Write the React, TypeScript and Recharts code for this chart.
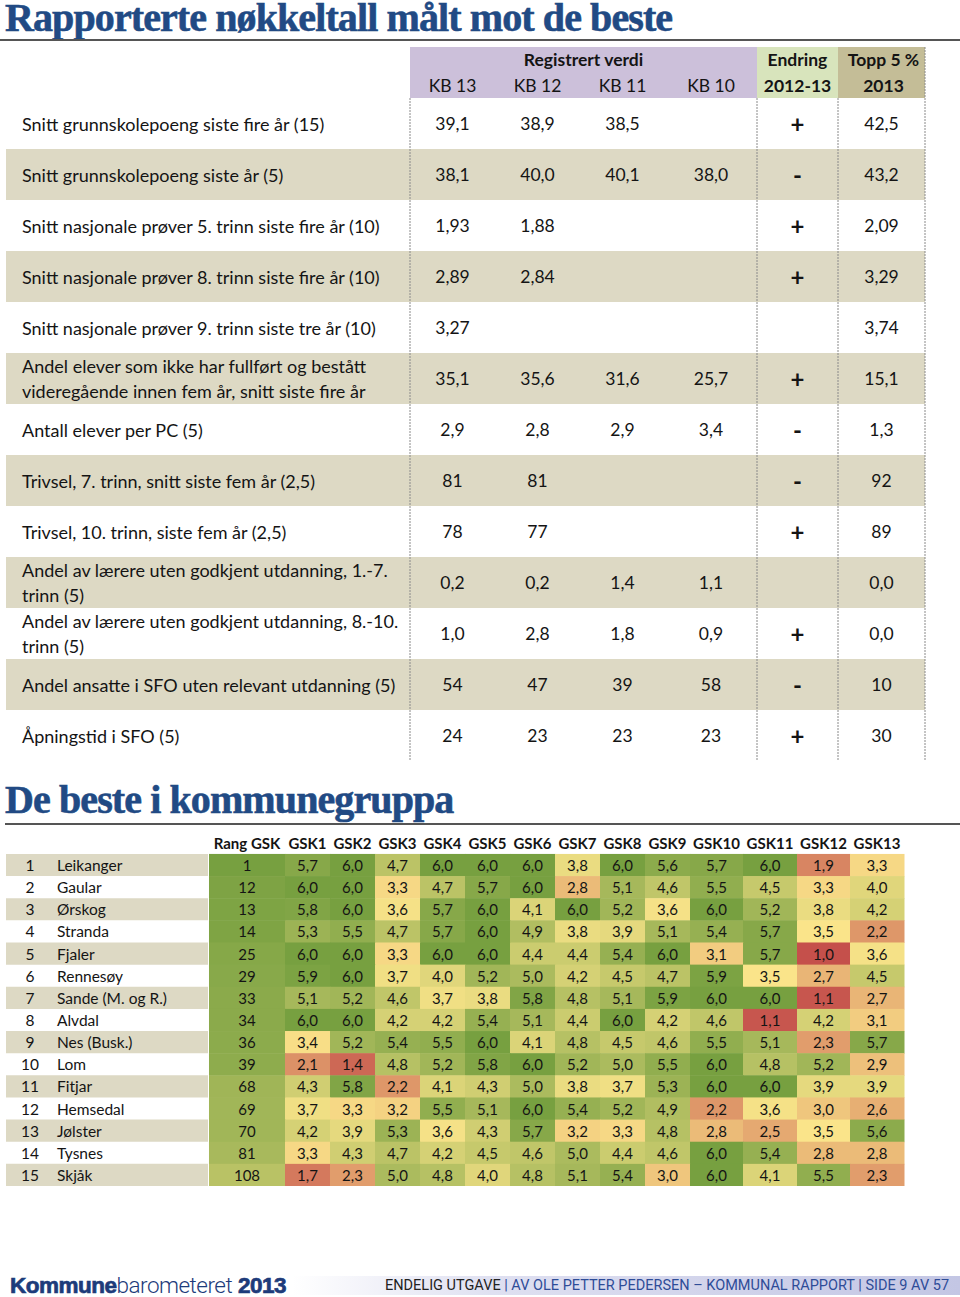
import React from "react";
import { ScatterChart, Scatter, XAxis, YAxis, ReferenceArea, ReferenceLine } from "recharts";

// ---------- top table: "Rapporterte nøkkeltall målt mot de beste"
const rowLabels = [
  "Snitt grunnskolepoeng siste fire år (15)",
  "Snitt grunnskolepoeng siste år (5)",
  "Snitt nasjonale prøver 5. trinn siste fire år (10)",
  "Snitt nasjonale prøver 8. trinn siste fire år (10)",
  "Snitt nasjonale prøver 9. trinn siste tre år (10)",
  "Andel elever som ikke har fullført og bestått\nvideregående innen fem år, snitt siste fire år",
  "Antall elever per PC (5)",
  "Trivsel, 7. trinn, snitt siste fem år (2,5)",
  "Trivsel, 10. trinn, siste fem år (2,5)",
  "Andel av lærere uten godkjent utdanning, 1.-7.\ntrinn (5)",
  "Andel av lærere uten godkjent utdanning, 8.-10.\ntrinn (5)",
  "Andel ansatte i SFO uten relevant utdanning (5)",
  "Åpningstid i SFO (5)",
];
const kbYears = ["KB 13", "KB 12", "KB 11", "KB 10"];
const kb13 = ["39,1", "38,1", "1,93", "2,89", "3,27", "35,1", "2,9", "81", "78", "0,2", "1,0", "54", "24"];
const kb12 = ["38,9", "40,0", "1,88", "2,84", "", "35,6", "2,8", "81", "77", "0,2", "2,8", "47", "23"];
const kb11 = ["38,5", "40,1", "", "", "", "31,6", "2,9", "", "", "1,4", "1,8", "39", "23"];
const kb10 = ["", "38,0", "", "", "", "25,7", "3,4", "", "", "1,1", "0,9", "58", "23"];
const endring = ["+", "-", "+", "+", "", "+", "-", "-", "+", "", "+", "-", "+"];
const topp5 = ["42,5", "43,2", "2,09", "3,29", "3,74", "15,1", "1,3", "92", "89", "0,0", "0,0", "10", "30"];

// ---------- bottom table: "De beste i kommunegruppa"
const gskHeaders = ["Rang GSK", "GSK1", "GSK2", "GSK3", "GSK4", "GSK5", "GSK6", "GSK7", "GSK8", "GSK9", "GSK10", "GSK11", "GSK12", "GSK13"];
const kommuner = ["Leikanger", "Gaular", "Ørskog", "Stranda", "Fjaler", "Rennesøy", "Sande (M. og R.)", "Alvdal", "Nes (Busk.)", "Lom", "Fitjar", "Hemsedal", "Jølster", "Tysnes", "Skjåk"];
const rangGsk = [1, 12, 13, 14, 25, 29, 33, 34, 36, 39, 68, 69, 70, 81, 108];
const gsk1 = [5.7, 6.0, 5.8, 5.3, 6.0, 5.9, 5.1, 6.0, 3.4, 2.1, 4.3, 3.7, 4.2, 3.3, 1.7];
const gsk2 = [6.0, 6.0, 6.0, 5.5, 6.0, 6.0, 5.2, 6.0, 5.2, 1.4, 5.8, 3.3, 3.9, 4.3, 2.3];
const gsk3 = [4.7, 3.3, 3.6, 4.7, 3.3, 3.7, 4.6, 4.2, 5.4, 4.8, 2.2, 3.2, 5.3, 4.7, 5.0];
const gsk4 = [6.0, 4.7, 5.7, 5.7, 6.0, 4.0, 3.7, 4.2, 5.5, 5.2, 4.1, 5.5, 3.6, 4.2, 4.8];
const gsk5 = [6.0, 5.7, 6.0, 6.0, 6.0, 5.2, 3.8, 5.4, 6.0, 5.8, 4.3, 5.1, 4.3, 4.5, 4.0];
const gsk6 = [6.0, 6.0, 4.1, 4.9, 4.4, 5.0, 5.8, 5.1, 4.1, 6.0, 5.0, 6.0, 5.7, 4.6, 4.8];
const gsk7 = [3.8, 2.8, 6.0, 3.8, 4.4, 4.2, 4.8, 4.4, 4.8, 5.2, 3.8, 5.4, 3.2, 5.0, 5.1];
const gsk8 = [6.0, 5.1, 5.2, 3.9, 5.4, 4.5, 5.1, 6.0, 4.5, 5.0, 3.7, 5.2, 3.3, 4.4, 5.4];
const gsk9 = [5.6, 4.6, 3.6, 5.1, 6.0, 4.7, 5.9, 4.2, 4.6, 5.5, 5.3, 4.9, 4.8, 4.6, 3.0];
const gsk10 = [5.7, 5.5, 6.0, 5.4, 3.1, 5.9, 6.0, 4.6, 5.5, 6.0, 6.0, 2.2, 2.8, 6.0, 6.0];
const gsk11 = [6.0, 4.5, 5.2, 5.7, 5.7, 3.5, 6.0, 1.1, 5.1, 4.8, 6.0, 3.6, 2.5, 5.4, 4.1];
const gsk12 = [1.9, 3.3, 3.8, 3.5, 1.0, 2.7, 1.1, 4.2, 2.3, 5.2, 3.9, 3.0, 3.5, 2.8, 5.5];
const gsk13 = [3.3, 4.0, 4.2, 2.2, 3.6, 4.5, 2.7, 3.1, 5.7, 2.9, 3.9, 2.6, 5.6, 2.8, 2.3];

// ---------- layout / style
const FONT = "Lato, 'Open Sans', sans-serif";
const INK = "#141414";
const BLUE = "#214a84";
const TAN = "#ddd9c4";

const TOP_EDGES = [410, 495, 580, 665, 757, 838, 925];
const TOP_LABEL_X = 22;
const HEAT_EDGES = [209, 285, 330, 375, 420, 465, 510, 555, 600, 645, 690, 743, 797, 850, 904];
const HEAT_TOP = 820;
const HEAT_H = 380;
const HEAT_MT = 11.8;
const HEAT_MB = 14;
const HEAT_ROW = (HEAT_H - HEAT_MT - HEAT_MB) / (kommuner.length + 1);

const mid = (a: number, b: number) => (a + b) / 2;
const fmt = (v: number) => v.toFixed(1).replace(".", ",");

// colour scales (red - yellow - green like the Excel 3-colour scale)
const RED = [197, 80, 75];
const YEL = [250, 228, 138];
const GRN = [119, 160, 64];
const mix = (a: number[], b: number[], t: number) =>
  `rgb(${a.map((v, i) => Math.round(v + (b[i] - v) * t)).join(",")})`;
const scoreColor = (v: number) => {
  if (v <= 3.5) return mix(RED, YEL, Math.max(0, (v - 1) / 2.5));
  return mix(YEL, GRN, Math.min(1, (v - 3.5) / 2.5));
};
const rankColor = (r: number) => mix(GRN, YEL, Math.min(1, (r - 1) / 214));

// ---------- build top table cells
type TopCell = { x: number; y: number; text: string; kind: "label" | "value" | "sign" | "head" | "headBold" };
const topCols = [kb13, kb12, kb11, kb10, endring, topp5];
const topCells: TopCell[] = [];
rowLabels.forEach((label, r) => {
  topCells.push({ x: TOP_LABEL_X, y: r + 0.5, text: label, kind: "label" });
  topCols.forEach((col, c) => {
    if (col[r]) topCells.push({ x: mid(TOP_EDGES[c], TOP_EDGES[c + 1]), y: r + 0.5, text: col[r], kind: c === 4 ? "sign" : "value" });
  });
});
topCells.push({ x: mid(TOP_EDGES[0], TOP_EDGES[4]), y: -0.75, text: "Registrert verdi", kind: "headBold" });
kbYears.forEach((k, c) => topCells.push({ x: mid(TOP_EDGES[c], TOP_EDGES[c + 1]), y: -0.25, text: k, kind: "head" }));
topCells.push({ x: mid(TOP_EDGES[4], TOP_EDGES[5]), y: -0.75, text: "Endring", kind: "headBold" });
topCells.push({ x: mid(TOP_EDGES[4], TOP_EDGES[5]), y: -0.25, text: "2012-13", kind: "headBold" });
topCells.push({ x: mid(TOP_EDGES[5], TOP_EDGES[6]) + 2, y: -0.75, text: "Topp 5 %", kind: "headBold" });
topCells.push({ x: mid(TOP_EDGES[5], TOP_EDGES[6]) + 2, y: -0.25, text: "2013", kind: "headBold" });

const renderTopCell = (p: any) => {
  const d: TopCell = p.payload;
  const lines = d.text.split("\n");
  const bold = d.kind === "sign" || d.kind === "headBold";
  const size = d.kind === "sign" ? 24 : d.kind === "label" ? 18 : 17.5;
  return (
    <text
      x={p.cx}
      y={p.cy}
      textAnchor={d.kind === "label" ? "start" : "middle"}
      dominantBaseline="central"
      fontFamily={FONT}
      fontSize={size}
      fontWeight={bold ? 700 : 400}
      fill={INK}
    >
      {lines.length === 1
        ? d.text
        : lines.map((l, i) => (
            <tspan key={i} x={p.cx} y={p.cy + (i - (lines.length - 1) / 2) * 25} dominantBaseline="central">
              {l}
            </tspan>
          ))}
    </text>
  );
};

// ---------- build heatmap cells
type HeatCell = { x: number; y: number; col: number; text: string; fill: string; kind: "cell" | "head" | "num" | "name" };
const gskCols = [gsk1, gsk2, gsk3, gsk4, gsk5, gsk6, gsk7, gsk8, gsk9, gsk10, gsk11, gsk12, gsk13];
const heatCells: HeatCell[] = [];
gskHeaders.forEach((h, c) =>
  heatCells.push({ x: mid(HEAT_EDGES[c], HEAT_EDGES[c + 1]), y: -0.5, col: c, text: h, fill: "none", kind: "head" })
);
kommuner.forEach((name, r) => {
  heatCells.push({ x: 30, y: r + 0.5, col: -1, text: String(r + 1), fill: "none", kind: "num" });
  heatCells.push({ x: 57, y: r + 0.5, col: -1, text: name, fill: "none", kind: "name" });
  heatCells.push({ x: mid(HEAT_EDGES[0], HEAT_EDGES[1]), y: r + 0.5, col: 0, text: String(rangGsk[r]), fill: rankColor(rangGsk[r]), kind: "cell" });
  gskCols.forEach((col, c) =>
    heatCells.push({ x: mid(HEAT_EDGES[c + 1], HEAT_EDGES[c + 2]), y: r + 0.5, col: c + 1, text: fmt(col[r]), fill: scoreColor(col[r]), kind: "cell" })
  );
});

const renderHeatCell = (p: any) => {
  const d: HeatCell = p.payload;
  if (d.kind === "cell") {
    const w = HEAT_EDGES[d.col + 1] - HEAT_EDGES[d.col];
    return (
      <g>
        <rect x={p.cx - w / 2} y={p.cy - HEAT_ROW / 2} width={w + 0.5} height={HEAT_ROW + 0.5} fill={d.fill} />
        <text x={p.cx} y={p.cy} textAnchor="middle" dominantBaseline="central" fontFamily={FONT} fontSize={15} fill={INK}>
          {d.text}
        </text>
      </g>
    );
  }
  return (
    <text
      x={p.cx}
      y={p.cy}
      textAnchor={d.kind === "name" ? "start" : "middle"}
      dominantBaseline="central"
      fontFamily={FONT}
      fontSize={d.kind === "head" ? 15 : 15.5}
      fontWeight={d.kind === "head" ? 700 : 400}
      fill={INK}
    >
      {d.text}
    </text>
  );
};

const Title = ({ top, text }: { top: number; text: string }) => (
  <div
    style={{
      position: "absolute",
      left: 5,
      top,
      fontFamily: "'Liberation Serif', 'DejaVu Serif', serif",
      fontWeight: 700,
      fontSize: 40,
      lineHeight: "34px",
      letterSpacing: -0.9,
      color: BLUE,
      WebkitTextStroke: `0.6px ${BLUE}`,
      whiteSpace: "nowrap",
    }}
  >
    {text}
  </div>
);

export default function App() {
  return (
    <div style={{ position: "absolute", left: 0, top: 0, width: 960, height: 1297, background: "#fff", overflow: "hidden" }}>
      <Title top={1} text="Rapporterte nøkkeltall målt mot de beste" />
      <div style={{ position: "absolute", left: 0, top: 39, width: 960, height: 2, background: "#555" }} />

      <div style={{ position: "absolute", left: 0, top: 0 }}>
        <ScatterChart width={960} height={770} margin={{ top: 47, right: 0, bottom: 9, left: 0 }}>
          <XAxis type="number" dataKey="x" domain={[0, 960]} allowDataOverflow hide />
          <YAxis type="number" dataKey="y" domain={[-1, 13]} allowDataOverflow reversed hide />
          <ReferenceArea x1={TOP_EDGES[0]} x2={TOP_EDGES[4]} y1={-1} y2={0} fill="#ccc0da" fillOpacity={1} stroke="none" />
          <ReferenceArea x1={TOP_EDGES[4]} x2={TOP_EDGES[5]} y1={-1} y2={0} fill="#d8e4bc" fillOpacity={1} stroke="none" />
          <ReferenceArea x1={TOP_EDGES[5]} x2={TOP_EDGES[6]} y1={-1} y2={0} fill="#c4bd97" fillOpacity={1} stroke="none" />
          {rowLabels.map((_, r) =>
            r % 2 === 1 ? (
              <ReferenceArea key={r} x1={6} x2={TOP_EDGES[6]} y1={r} y2={r + 1} fill={TAN} fillOpacity={1} stroke="none" />
            ) : null
          )}
          {[TOP_EDGES[0], TOP_EDGES[4], TOP_EDGES[5], TOP_EDGES[6]].map((x, i) => (
            <ReferenceLine
              key={i}
              segment={[{ x, y: i === 3 ? -1 : 0 }, { x, y: 13 }]}
              stroke="#8a8a8a"
              strokeDasharray="2 1"
              strokeWidth={1}
            />
          ))}
          <Scatter data={topCells} shape={renderTopCell} isAnimationActive={false} />
        </ScatterChart>
      </div>

      <Title top={783} text="De beste i kommunegruppa" />
      <div style={{ position: "absolute", left: 5, top: 823, width: 955, height: 2, background: "#555" }} />

      <div style={{ position: "absolute", left: 0, top: HEAT_TOP }}>
        <ScatterChart width={960} height={HEAT_H} margin={{ top: HEAT_MT, right: 0, bottom: HEAT_MB, left: 0 }}>
          <XAxis type="number" dataKey="x" domain={[0, 960]} allowDataOverflow hide />
          <YAxis type="number" dataKey="y" domain={[-1, kommuner.length]} allowDataOverflow reversed hide />
          {kommuner.map((_, r) =>
            r % 2 === 0 ? (
              <ReferenceArea key={r} x1={6} x2={HEAT_EDGES[0] - 1} y1={r} y2={r + 1} fill={TAN} fillOpacity={1} stroke="none" />
            ) : null
          )}
          <Scatter data={heatCells} shape={renderHeatCell} isAnimationActive={false} />
        </ScatterChart>
      </div>

      {/* footer */}
      <div
        style={{
          position: "absolute",
          left: 292,
          top: 1276,
          width: 668,
          height: 19,
          background: "linear-gradient(to right, #ffffff 0%, #dfe0f1 30%, #c3c6e4 100%)",
        }}
      />
      <div style={{ position: "absolute", left: 10, top: 1272, fontFamily: "'Liberation Sans', Arial, sans-serif", fontSize: 22.5, color: "#1d3b7a", whiteSpace: "nowrap", letterSpacing: -0.5 }}>
        <span style={{ fontWeight: 900, WebkitTextStroke: "0.7px #1d3b7a" }}>Kommune</span>
        <span style={{ fontFamily: "Roboto, sans-serif", fontWeight: 300 }}>barometeret</span>
        <span style={{ fontWeight: 900, WebkitTextStroke: "0.7px #1d3b7a" }}> 2013</span>
      </div>
      <div style={{ position: "absolute", left: 385, top: 1277, fontFamily: "Roboto, sans-serif", fontSize: 14.5, lineHeight: "17px", whiteSpace: "nowrap", color: "#2e4c98" }}>
        <span style={{ color: "#222" }}>ENDELIG UTGAVE</span> | AV OLE PETTER PEDERSEN – KOMMUNAL RAPPORT | SIDE 9 AV 57
      </div>
    </div>
  );
}
